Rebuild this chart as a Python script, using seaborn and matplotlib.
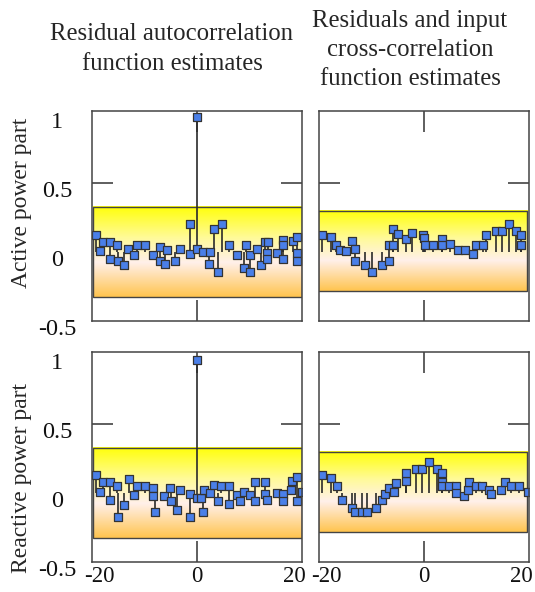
"""Residual correlation checks, active and reactive power parts"""

import matplotlib
matplotlib.use("Agg")
import matplotlib.pyplot as plt
from matplotlib.colors import LinearSegmentedColormap
from matplotlib.patches import Rectangle
from matplotlib.transforms import ScaledTranslation
import numpy as np
import pandas as pd
import seaborn as sns

# ---- data (lag, estimate) ----
auto_active_lag = [-20.8, -20.0, -19.3, -17.8, -17.8, -16.4, -16.2, -15.0, -14.2, -13.0, -12.3, -10.8,
                   -9.1, -7.7, -7.6, -6.5, -6.2, -4.6, -3.4, -1.4, -1.4, -0.1, 0.0, 1.2, 2.4, 2.6, 3.5,
                   4.3, 5.1, 6.5, 8.3, 9.6, 10.0, 10.8, 10.8, 12.3, 13.1, 13.9, 14.3, 14.6, 14.5, 16.5,
                   17.7, 17.7, 17.7, 19.8, 20.6, 20.6, 20.6]
auto_active_val = [0.126, 0.007, 0.074, 0.074, -0.053, 0.050, -0.064, -0.093, 0.026, -0.021, 0.050, 0.050,
                   -0.021, 0.038, -0.064, -0.088, 0.016, -0.064, 0.026, 0.204, -0.012, 0.978, 0.019, 0.002,
                   -0.088, 0.002, 0.166, -0.141, 0.204, 0.050, -0.021, -0.112, 0.050, -0.141, -0.021, 0.026,
                   -0.093, 0.074, -0.007, 0.074, -0.053, -0.007, 0.090, 0.050, -0.053, 0.083, 0.107, -0.003,
                   -0.064]

cross_active_lag = [-20.9, -19.2, -18.2, -17.2, -16.0, -14.9, -14.1, -14.1, -12.1, -10.6, -8.7, -7.2, -7.2,
                    -6.4, -6.4, -5.3, -3.8, -2.4, -0.3, -0.1, 0.2, 1.9, 3.6, 3.6, 5.3, 6.9, 8.5, 10.1, 10.6,
                    12.1, 12.7, 14.9, 16.0, 17.5, 19.0, 20.0, 20.0]
cross_active_val = [0.126, 0.107, 0.050, 0.016, 0.007, 0.078, 0.026, -0.064, -0.093, -0.141, -0.093, -0.064,
                    0.050, 0.050, 0.166, 0.133, 0.098, 0.138, 0.121, 0.102, 0.050, 0.050, 0.098, 0.050, 0.059,
                    0.012, 0.012, -0.012, 0.050, 0.050, 0.126, 0.154, 0.154, 0.204, 0.154, 0.126, 0.055]

auto_reactive_lag = [-20.8, -20.0, -19.3, -17.8, -17.8, -16.4, -16.2, -15.0, -13.9, -13.0, -12.3, -10.8,
                     -9.1, -9.1, -8.6, -6.7, -5.5, -5.3, -4.2, -3.4, -1.4, -1.4, 0.0, 0.0, 0.8, 1.2, 1.5,
                     2.6, 3.5, 4.3, 5.0, 6.5, 6.5, 8.3, 8.9, 9.7, 10.8, 12.0, 12.0, 13.9, 13.9, 14.5, 16.5,
                     17.7, 17.7, 19.3, 19.6, 20.6, 20.6, 21.5]
auto_reactive_val = [0.128, 0.009, 0.081, 0.081, -0.050, 0.050, -0.176, -0.088, 0.100, -0.014, 0.052, 0.052,
                     0.038, -0.021, -0.136, -0.019, 0.038, -0.057, -0.120, 0.019, -0.010, -0.176, 0.967,
                     -0.038, -0.038, -0.136, 0.026, 0.000, 0.062, -0.057, 0.050, 0.050, -0.076, -0.014,
                     -0.057, 0.009, -0.014, 0.081, -0.057, 0.081, -0.010, -0.050, 0.000, -0.010, -0.057,
                     0.019, 0.086, 0.114, -0.057, 0.009]

cross_reactive_lag = [-20.9, -19.2, -18.0, -16.9, -14.9, -14.1, -12.8, -11.7, -9.8, -8.7, -8.0, -7.2, -6.2,
                      -5.7, -3.8, -3.7, -1.7, -0.4, 1.0, 2.7, 3.7, 3.7, 3.7, 5.1, 6.6, 6.6, 8.2, 9.1, 9.2,
                      10.7, 12.0, 13.4, 13.8, 15.9, 16.6, 17.8, 19.6, 21.4]
cross_reactive_val = [0.128, 0.109, 0.052, -0.050, -0.109, -0.140, -0.140, -0.140, -0.109, -0.050, -0.010,
                      0.038, 0.009, 0.071, 0.090, 0.145, 0.176, 0.176, 0.228, 0.176, 0.145, 0.081, 0.050,
                      0.050, 0.050, 0.002, -0.021, 0.024, 0.081, 0.050, 0.050, 0.019, -0.010, 0.019, 0.081,
                      0.050, 0.050, 0.009]

# confidence band limits in each column
band_auto = [-0.325, 0.33]
band_cross = [-0.285, 0.30]

col_titles = ["Residual autocorrelation\nfunction estimates",
              "Residuals and input\ncross-correlation\nfunction estimates"]
row_titles = ["Active power part", "Reactive power part"]
x_ticks = [-20, 0, 20]
y_ticks = [-0.5, 0, 0.5, 1]
y_tick_labels = ["-0.5", "0", "0.5", "1"]

sns.set_theme(style="white")
plt.rcParams['font.family'] = ["Liberation Serif", "DejaVu Serif"]
plt.rcParams['axes.unicode_minus'] = False

band_cmap = LinearSegmentedColormap.from_list(
    "band", [(0.0, "#ffc44e"), (0.38, "#fff0ea"), (0.65, "#fffa9a"), (1.0, "#ffff08")])

fig = plt.figure(figsize=(5.35, 5.92), dpi=100)
W, H = 535, 592
boxes = {(0, 0): (92, 111), (0, 1): (319, 111), (1, 0): (92, 352), (1, 1): (319, 352)}
data = {(0, 0): (auto_active_lag, auto_active_val, band_auto),
        (0, 1): (cross_active_lag, cross_active_val, band_cross),
        (1, 0): (auto_reactive_lag, auto_reactive_val, band_auto),
        (1, 1): (cross_reactive_lag, cross_reactive_val, band_cross)}

x_lim = (-21.6, 21.6)
y_lim = (-0.475, 1.024)
axes = {}
for (r, c), (x0, y0) in boxes.items():
    ax = fig.add_axes([x0 / W, 1 - (y0 + 210) / H, 210 / W, 210 / H])
    axes[(r, c)] = ax
    lags, vals, band = data[(r, c)]
    df = pd.DataFrame({"lag": lags, "value": vals})

    # gradient confidence band
    grad = np.linspace(0, 1, 256).reshape(-1, 1)
    bx = (-21.3, 21.6) if c == 0 else (-21.8, 21.2)
    ax.imshow(grad, cmap=band_cmap, origin="lower", aspect="auto",
              extent=(bx[0], bx[1], band[0], band[1]), zorder=1)
    ax.add_patch(Rectangle((bx[0], band[0]), bx[1] - bx[0], band[1] - band[0],
                           fill=False, edgecolor="#444444", linewidth=1.0, zorder=1.5))

    ax.vlines(df["lag"], 0, df["value"], color="#2a2a2a", linewidth=1.2, zorder=2)
    sns.scatterplot(data=df, x="lag", y="value", ax=ax, marker="s", s=40,
                    color="#4a7fe8", edgecolor="#333333", linewidth=0.9, zorder=3, legend=False)

    ax.set_xlim(*x_lim)
    ax.set_ylim(*y_lim)
    ax.set_xlabel("")
    ax.set_ylabel("")
    ax.set_xticks(x_ticks)
    ax.set_yticks(y_ticks)
    ax.set_xticks([0], minor=True)
    ax.set_yticks([0.5], minor=True)
    ax.xaxis.remove_overlapping_locs = False
    ax.yaxis.remove_overlapping_locs = False
    ax.tick_params(which="major", length=0, labelsize=17.5, colors="#111111")
    ax.tick_params(axis="x", which="major", pad=3, labelsize=16.5)
    ax.tick_params(axis="y", which="major", pad=25)
    ax.tick_params(which="minor", direction="in", length=15, width=1.1, color="#333333",
                   top=True, bottom=True, left=True, right=True)
    if r == 1:
        ax.set_xticklabels([str(t) for t in x_ticks])
    else:
        ax.set_xticklabels([])
    if c == 0:
        ax.set_yticklabels(y_tick_labels)
        for lab in ax.get_yticklabels():
            lab.set_horizontalalignment("center")
    else:
        ax.set_yticklabels([])
    for sp in ax.spines.values():
        sp.set_color("#444444")
        sp.set_linewidth(1.1)
        sp.set_zorder(4)

fig.text(172 / W, 1 - 49 / H, col_titles[0], ha="center", va="center", fontsize=17.8, linespacing=1.5)
fig.text(410 / W, 1 - 50 / H, col_titles[1], ha="center", va="center", fontsize=17.8, linespacing=1.42)
fig.text(22 / W, 1 - 203 / H, row_titles[0], ha="center", va="center", rotation=90, fontsize=17)
fig.text(22 / W, 1 - 478 / H, row_titles[1], ha="center", va="center", rotation=90, fontsize=17)

# y tick labels in the reference sit a little below their ticks
fig.canvas.draw()
shift = ScaledTranslation(0, -6 / 100, fig.dpi_scale_trans)
for c_ax in (axes[(0, 0)], axes[(1, 0)]):
    for tick in c_ax.yaxis.get_major_ticks():
        tick.label1.set_transform(tick.label1.get_transform() + shift)

fig.savefig("out.png", dpi=100)
